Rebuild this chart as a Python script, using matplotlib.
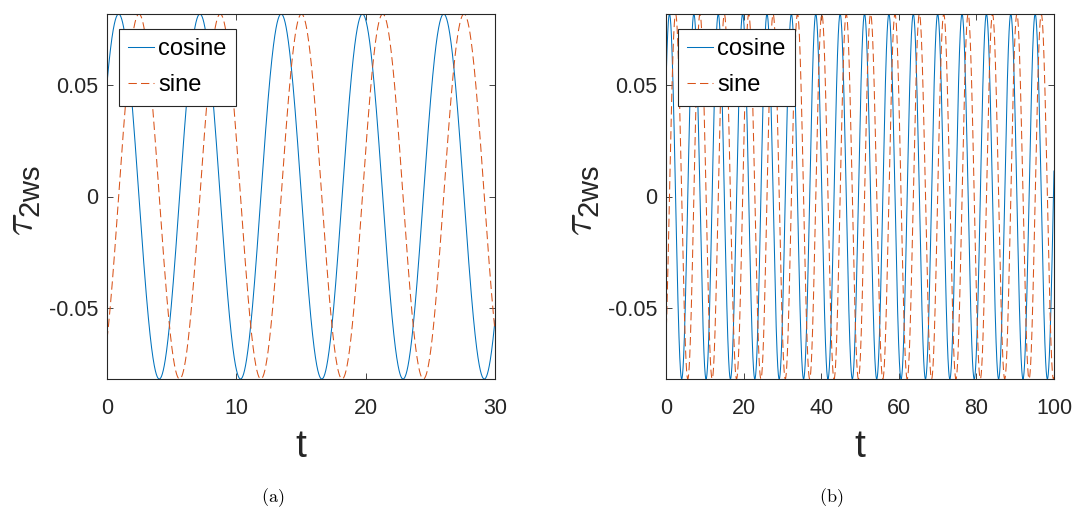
import numpy as np
import matplotlib
matplotlib.use("Agg")
import matplotlib.pyplot as plt

# torque signal parameters: tau = amp*cos(w*t - phase), amp*sin(w*t - phase)
amplitude = 0.0816
omega = 1.0
phase = 0.9
t_ranges = [(0, 30), (0, 100)]
x_ticks = [[0, 10, 20, 30], [0, 20, 40, 60, 80, 100]]
y_ticks = [-0.05, 0, 0.05]
y_ticklabels = ["-0.05", "0", "0.05"]
captions = [r"$\mathrm{(a)}$", r"$\mathrm{(b)}$"]

blue = "#0072BD"
orange = "#D95319"
axis_gray = "#262626"

plt.rcParams["font.family"] = ["Liberation Sans", "DejaVu Sans"]

fig = plt.figure(figsize=(10.72, 5.07), dpi=100)
lefts = [107 / 1072, 666 / 1072]
width = 388 / 1072

for i, (t0, t1) in enumerate(t_ranges):
    ax = fig.add_axes([lefts[i], 128 / 507, width, 365 / 507])
    t = np.linspace(t0, t1, 4001)
    ax.plot(t, amplitude * np.cos(omega * t - phase), color=blue, lw=0.75, label="cosine")
    ax.plot(t, amplitude * np.sin(omega * t - phase), color=orange, lw=0.75,
            linestyle=(0, (8, 4)), label="sine")
    ax.set_xlim(t0, t1)
    ax.set_ylim(-amplitude, amplitude)
    ax.set_xticks(x_ticks[i])
    ax.set_yticks(y_ticks)
    ax.set_yticklabels(y_ticklabels)
    ax.tick_params(direction="in", length=4, width=0.6, colors=axis_gray,
                   labelsize=15.5, top=True, right=True, pad=14)
    ax.tick_params(axis="y", pad=6)
    for s in ax.spines.values():
        s.set_color(axis_gray)
        s.set_linewidth(0.8)
    ax.set_xlabel("t", fontsize=28, color=axis_gray, labelpad=7)
    ax.set_ylabel(r"$\tau_{\mathregular{2ws}}$", fontsize=30, color=axis_gray,
                  math_fontfamily="cm")
    ax.yaxis.set_label_coords(-0.165, 0.49)
    leg = ax.legend(loc="upper left", bbox_to_anchor=(0.031, 0.96), fontsize=17,
                    fancybox=False, framealpha=1, edgecolor="#262626",
                    handlelength=1.1, handletextpad=0.15, borderpad=0.4,
                    labelspacing=0.6, borderaxespad=0)
    leg.get_frame().set_linewidth(0.8)
    fig.text(lefts[i] + width / 2 - 0.0265, -2 / 507, captions[i], ha="center",
             va="bottom", fontsize=13, math_fontfamily="cm")

fig.savefig("out.png", dpi=100)
